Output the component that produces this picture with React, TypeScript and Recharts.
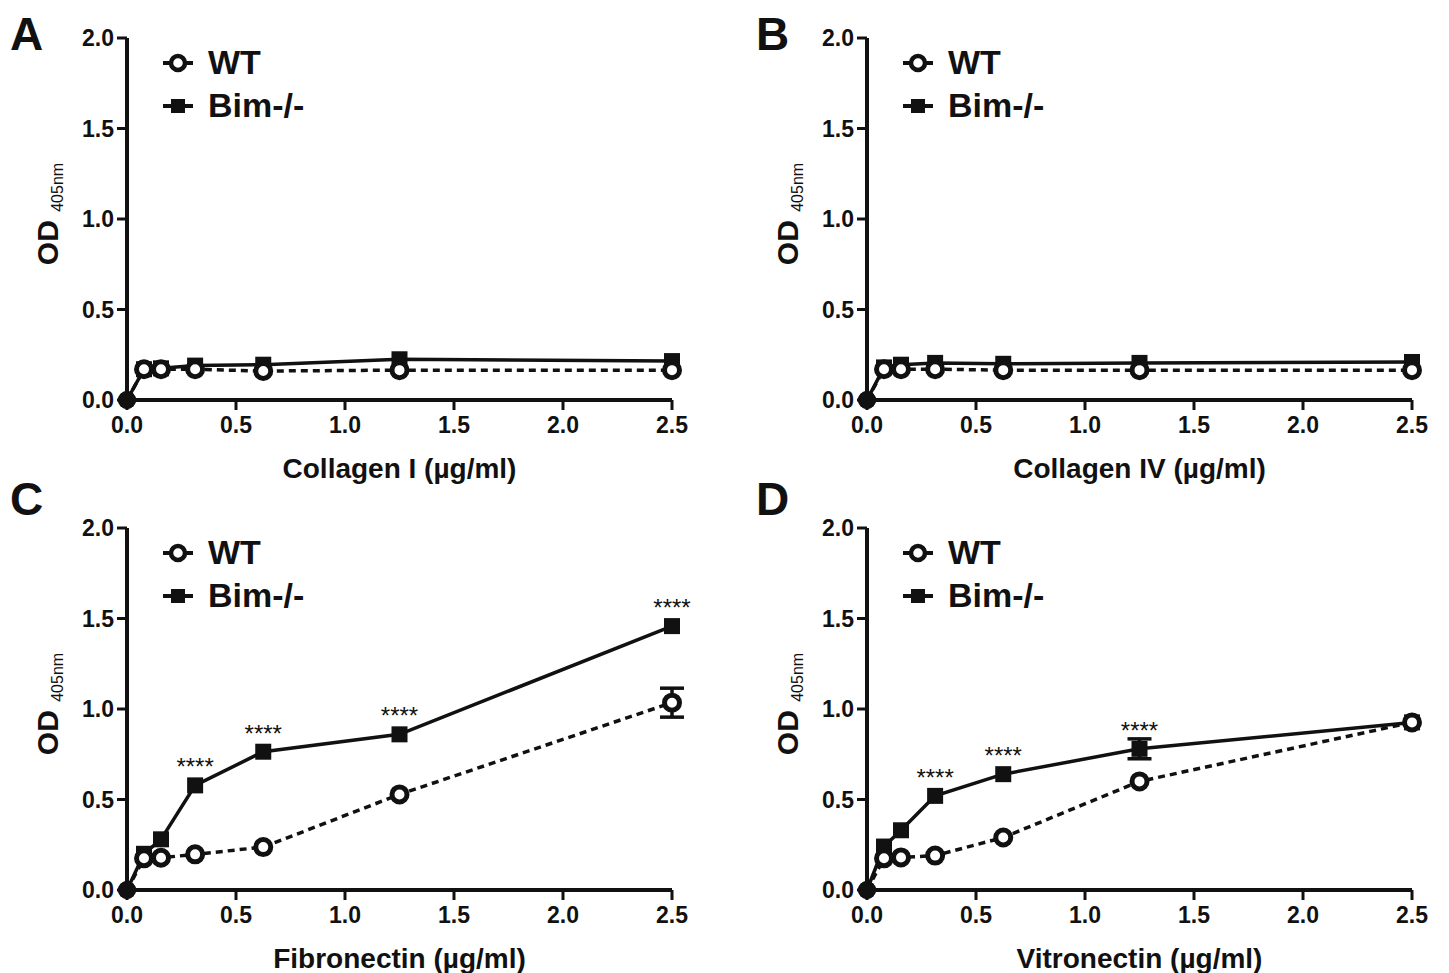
import React from 'react';
import { LineChart, Line, XAxis, YAxis, ErrorBar } from 'recharts';

// concentrations on the x axis (µg/ml)
const conc = [0, 0.078, 0.156, 0.3125, 0.625, 1.25, 2.5];
const xTicks = [0, 0.5, 1, 1.5, 2, 2.5];
const yTicks = [0, 0.5, 1, 1.5, 2];

const col1WT = [0, 0.17, 0.17, 0.17, 0.16, 0.165, 0.165];
const col1Bim = [0, 0.17, 0.175, 0.19, 0.195, 0.225, 0.215];

const col4WT = [0, 0.17, 0.17, 0.17, 0.165, 0.165, 0.165];
const col4Bim = [0, 0.18, 0.195, 0.205, 0.2, 0.205, 0.21];

const fibWT = [0, 0.175, 0.178, 0.197, 0.237, 0.528, 1.035];
const fibBim = [0, 0.2, 0.28, 0.578, 0.764, 0.86, 1.458];
const fibWTErr = [null, null, null, null, null, null, 0.08];
const fibSig = ['', '', '', '****', '****', '****', '****'];

const vitWT = [0, 0.175, 0.18, 0.19, 0.29, 0.6, 0.926];
const vitBim = [0, 0.24, 0.33, 0.52, 0.64, 0.78, 0.926];
const vitBimErr = [null, null, null, null, null, 0.055, null];
const vitSig = ['', '', '', '****', '****', '****', ''];

const noErr = [null, null, null, null, null, null, null];
const noSig = ['', '', '', '', '', '', ''];

const FONT = "'Liberation Sans', Arial, sans-serif";
const INK = '#111';

function wtDot(props: any) {
  const { cx, cy, index } = props;
  if (conc[index] === 0) return <circle key={'w' + index} cx={cx} cy={cy} r={9} fill={INK} />;
  return <circle key={'w' + index} cx={cx} cy={cy} r={7.5} fill="#fff" stroke={INK} strokeWidth={5} />;
}

function bimDot(props: any) {
  const { cx, cy, index } = props;
  if (conc[index] === 0) return <circle key={'b' + index} cx={cx} cy={cy} r={9} fill={INK} />;
  return <rect key={'b' + index} x={cx - 8} y={cy - 8} width={16} height={16} fill={INK} />;
}

function ODLabel() {
  const cx = 58;
  const cy = 214;
  return (
    <text x={cx} y={cy} transform={`rotate(-90 ${cx} ${cy})`} textAnchor="middle" fill={INK} fontFamily={FONT}>
      <tspan fontSize={30} fontWeight="bold">OD </tspan>
      <tspan fontSize={16} dy={5}>405nm</tspan>
    </text>
  );
}

function LegendBox() {
  return (
    <div style={{ position: 'absolute', left: 160, top: 40, width: 220, height: 90, fontFamily: FONT, fontWeight: 'bold', fontSize: 34, color: INK }}>
      <svg width={40} height={90} style={{ position: 'absolute', left: 0, top: 0 }}>
        <line x1={3} y1={23} x2={33} y2={23} stroke={INK} strokeWidth={4} />
        <circle cx={18} cy={23} r={7} fill="#fff" stroke={INK} strokeWidth={4.5} />
        <line x1={3} y1={66} x2={33} y2={66} stroke={INK} strokeWidth={4} />
        <rect x={11} y={59} width={14} height={14} fill={INK} />
      </svg>
      <div style={{ position: 'absolute', left: 48, top: 3, lineHeight: '38px' }}>WT</div>
      <div style={{ position: 'absolute', left: 48, top: 46, lineHeight: '38px' }}>Bim-/-</div>
    </div>
  );
}

interface PanelProps {
  left: number;
  top: number;
  xTitle: string;
  wt: number[];
  bim: number[];
  wtErr: (number | null)[];
  bimErr: (number | null)[];
  sig: string[];
}

function Panel({ left, top, xTitle, wt, bim, wtErr, bimErr, sig }: PanelProps) {
  const data = conc.map((c, i) => ({ x: c, wt: wt[i], bim: bim[i], wtErr: wtErr[i], bimErr: bimErr[i] }));

  const starLabel = (p: any) => {
    const s = sig[p.index];
    if (!s) return null;
    return (
      <text key={'s' + p.index} x={p.x} y={p.y - 10} textAnchor="middle" fontSize={24} fontFamily={FONT} fill={INK}>
        {s}
      </text>
    );
  };

  return (
    <div style={{ position: 'absolute', left, top, width: 720, height: 490 }}>
      <LineChart width={720} height={490} data={data} margin={{ top: 38, right: 48, left: 0, bottom: 0 }}>
        <XAxis
          dataKey="x"
          type="number"
          domain={[0, 2.5]}
          ticks={xTicks}
          tickFormatter={(v: number) => v.toFixed(1)}
          height={90}
          axisLine={{ stroke: INK, strokeWidth: 4 }}
          tickLine={{ stroke: INK, strokeWidth: 3 }}
          tickSize={10}
          tickMargin={7}
          tick={{ fill: INK, fontSize: 23, fontWeight: 'bold', fontFamily: FONT }}
          label={{ value: xTitle, position: 'insideBottom', offset: 12, fill: INK, fontSize: 28, fontWeight: 'bold', fontFamily: FONT }}
        />
        <YAxis
          type="number"
          domain={[0, 2]}
          ticks={yTicks}
          tickFormatter={(v: number) => v.toFixed(1)}
          width={127}
          axisLine={{ stroke: INK, strokeWidth: 4 }}
          tickLine={{ stroke: INK, strokeWidth: 3 }}
          tickSize={10}
          tickMargin={3}
          tick={{ fill: INK, fontSize: 23, fontWeight: 'bold', fontFamily: FONT }}
          label={{ content: <ODLabel /> }}
        />
        <Line
          dataKey="bim"
          name="Bim-/-"
          type="linear"
          stroke={INK}
          strokeWidth={3.5}
          dot={bimDot}
          label={starLabel}
          isAnimationActive={false}
        >
          <ErrorBar dataKey="bimErr" width={12} strokeWidth={3.5} stroke={INK} direction="y" />
        </Line>
        <Line
          dataKey="wt"
          name="WT"
          type="linear"
          stroke={INK}
          strokeWidth={3.5}
          strokeDasharray="7 5"
          dot={wtDot}
          isAnimationActive={false}
        >
          <ErrorBar dataKey="wtErr" width={12} strokeWidth={3.5} stroke={INK} direction="y" />
        </Line>
      </LineChart>
      <LegendBox />
    </div>
  );
}

const letterStyle: React.CSSProperties = {
  position: 'absolute',
  fontFamily: FONT,
  fontWeight: 'bold',
  fontSize: 46,
  lineHeight: '46px',
  color: INK,
};

export default function App() {
  return (
    <div style={{ position: 'absolute', left: 0, top: 0, width: 1449, height: 973, background: '#fff', overflow: 'hidden' }}>
      <Panel left={0} top={0} xTitle="Collagen I (µg/ml)" wt={col1WT} bim={col1Bim} wtErr={noErr} bimErr={noErr} sig={noSig} />
      <Panel left={740} top={0} xTitle="Collagen IV (µg/ml)" wt={col4WT} bim={col4Bim} wtErr={noErr} bimErr={noErr} sig={noSig} />
      <Panel left={0} top={490} xTitle="Fibronectin (µg/ml)" wt={fibWT} bim={fibBim} wtErr={fibWTErr} bimErr={noErr} sig={fibSig} />
      <Panel left={740} top={490} xTitle="Vitronectin (µg/ml)" wt={vitWT} bim={vitBim} wtErr={noErr} bimErr={vitBimErr} sig={vitSig} />
      <div style={{ ...letterStyle, left: 10, top: 11 }}>A</div>
      <div style={{ ...letterStyle, left: 756, top: 11 }}>B</div>
      <div style={{ ...letterStyle, left: 10, top: 476 }}>C</div>
      <div style={{ ...letterStyle, left: 756, top: 476 }}>D</div>
    </div>
  );
}
